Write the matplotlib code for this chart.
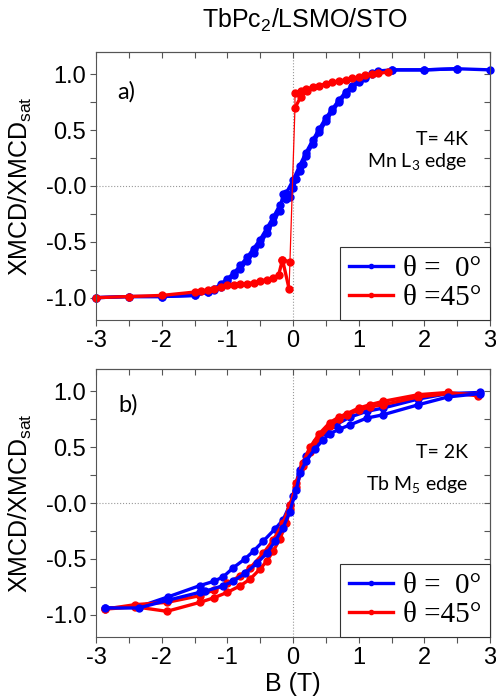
import matplotlib
matplotlib.use('Agg')
import matplotlib.pyplot as plt
from matplotlib.ticker import MultipleLocator, FixedLocator

plt.rcParams['font.family'] = ['Liberation Sans', 'DejaVu Sans']
plt.rcParams['mathtext.fontset'] = 'custom'
plt.rcParams['mathtext.rm'] = 'Liberation Sans'

# ---- panel a: Mn L3 edge, T = 4K ----
a_blue_up_B = [-3.0, -2.5, -2.0, -1.5, -1.3, -1.2, -1.1, -1.0, -0.9, -0.8, -0.7, -0.6, -0.5, -0.4,
               -0.3, -0.2, -0.15, -0.1, -0.05, 0.0, 0.05, 0.1, 0.15, 0.2, 0.3, 0.4, 0.5, 0.6, 0.7,
               0.8, 0.9, 1.0, 1.1, 1.2, 1.3, 1.5, 2.0, 2.5, 3.0]
a_blue_up_M = [-1.0, -0.99, -0.99, -0.98, -0.95, -0.93, -0.9, -0.85, -0.8, -0.74, -0.67, -0.6, -0.52,
               -0.42, -0.32, -0.22, -0.07, -0.12, -0.1, -0.02, 0.06, 0.13, 0.2, 0.27, 0.38, 0.48,
               0.58, 0.67, 0.75, 0.82, 0.88, 0.93, 0.97, 1.0, 1.02, 1.04, 1.04, 1.05, 1.04]
a_blue_dn_B = [2.5, 2.0, 1.5, 1.3, 1.2, 1.1, 1.0, 0.9, 0.8, 0.7, 0.6, 0.5, 0.4, 0.3, 0.2, 0.1, 0.0,
               -0.1, -0.2, -0.3, -0.4, -0.5, -0.6, -0.7, -0.8, -0.9, -1.0, -1.1, -1.2, -1.3, -1.5,
               -2.0, -2.5, -3.0]
a_blue_dn_M = [1.05, 1.04, 1.04, 1.03, 1.01, 0.98, 0.94, 0.9, 0.84, 0.77, 0.69, 0.61, 0.51, 0.41,
               0.3, 0.18, 0.05, -0.06, -0.17, -0.28, -0.38, -0.48, -0.56, -0.64, -0.71, -0.78,
               -0.83, -0.88, -0.92, -0.95, -0.98, -0.99, -0.99, -1.0]

a_red_low_B = [-3.0, -2.5, -2.0, -1.5, -1.4, -1.3, -1.2, -1.1, -1.0, -0.9, -0.8, -0.7, -0.6, -0.5,
               -0.4, -0.3, -0.22, -0.16, -0.06]
a_red_low_M = [-1.0, -0.99, -0.98, -0.95, -0.94, -0.93, -0.92, -0.9, -0.89, -0.885, -0.88, -0.875,
               -0.865, -0.85, -0.84, -0.82, -0.8, -0.66, -0.92]
a_red_spike_B = [-0.16, -0.05]
a_red_spike_M = [-0.66, -0.68]
a_red_jump_B = [-0.06, 0.03, 0.03]
a_red_jump_M = [-0.92, 0.70, 0.83]
a_red_up_B = [1.45, 1.3, 1.2, 1.1, 1.0, 0.9, 0.8, 0.7, 0.6, 0.5, 0.4, 0.3, 0.2, 0.12, 0.03]
a_red_up_M = [1.02, 1.01, 1.0, 0.99, 0.975, 0.965, 0.95, 0.94, 0.93, 0.915, 0.9, 0.885, 0.865, 0.85, 0.83]
a_red_up2_B = [0.03, 0.12, 0.22]
a_red_up2_M = [0.70, 0.80, 0.855]

# ---- panel b: Tb M5 edge, T = 2K ----
b_blue_dn_B = [2.85, 2.36, 1.9, 1.37, 1.12, 0.87, 0.65, 0.5, 0.35, 0.2, 0.1, 0.0, -0.05, -0.15,
               -0.27, -0.45, -0.6, -0.73, -0.91, -1.06, -1.2, -1.42, -1.9, -2.35, -2.86]
b_blue_dn_M = [0.99, 0.98, 0.93, 0.85, 0.82, 0.77, 0.7, 0.64, 0.55, 0.42, 0.3, 0.06, -0.02, -0.15,
               -0.23, -0.34, -0.43, -0.5, -0.58, -0.66, -0.7, -0.74, -0.84, -0.93, -0.94]
b_blue_up_B = [-2.86, -2.35, -1.9, -1.42, -1.34, -1.06, -0.91, -0.73, -0.55, -0.4, -0.27, -0.15,
               -0.05, 0.05, 0.11, 0.2, 0.33, 0.45, 0.56, 0.7, 0.87, 1.12, 1.37, 1.91, 2.36, 2.85]
b_blue_up_M = [-0.94, -0.94, -0.87, -0.8, -0.79, -0.74, -0.7, -0.63, -0.54, -0.45, -0.34, -0.22,
               -0.08, 0.12, 0.27, 0.38, 0.48, 0.56, 0.62, 0.66, 0.7, 0.76, 0.79, 0.88, 0.95, 0.98]
b_red_up_B = [-2.86, -2.4, -1.92, -1.42, -1.21, -1.0, -0.8, -0.65, -0.5, -0.4, -0.3, -0.2, -0.1,
              -0.05, 0.05, 0.15, 0.26, 0.4, 0.56, 0.7, 0.82, 1.0, 1.17, 1.37, 1.91, 2.36, 2.82]
b_red_up_M = [-0.95, -0.93, -0.97, -0.89, -0.85, -0.8, -0.74, -0.68, -0.59, -0.52, -0.43, -0.32,
              -0.18, -0.05, 0.18, 0.36, 0.5, 0.62, 0.72, 0.77, 0.8, 0.85, 0.88, 0.91, 0.97, 0.99, 0.96]
b_red_dn_B = [2.82, 2.36, 1.91, 1.37, 1.17, 1.0, 0.82, 0.7, 0.56, 0.4, 0.26, 0.15, 0.05, -0.05,
              -0.15, -0.3, -0.45, -0.65, -0.8, -1.0, -1.21, -1.42, -1.92, -2.4, -2.86]
b_red_dn_M = [0.97, 0.98, 0.95, 0.88, 0.86, 0.83, 0.79, 0.75, 0.69, 0.58, 0.46, 0.33, 0.14, -0.02,
              -0.18, -0.33, -0.45, -0.58, -0.65, -0.72, -0.78, -0.83, -0.89, -0.91, -0.95]

ytick_vals = [-1.0, -0.5, 0.0, 0.5, 1.0]
ytick_labels = ['-1.0', '-0.5', '-0.0', '0.5', '1.0']
xtick_vals = [-3, -2, -1, 0, 1, 2, 3]
xtick_labels = ['-3', '-2', '-1', '0', '1', '2', '3']

BLUE = '#0000ff'
RED = '#ff0000'
SPINE = '#555555'


def style_axes(ax):
    ax.set_xlim(-3, 3)
    ax.set_ylim(-1.2, 1.2)
    ax.axhline(0, color='#999999', lw=0.8, ls=':', zorder=0)
    ax.axvline(0, color='#999999', lw=0.8, ls=':', zorder=0)
    ax.xaxis.set_major_locator(FixedLocator(xtick_vals))
    ax.set_xticklabels(xtick_labels)
    ax.xaxis.set_minor_locator(MultipleLocator(0.5))
    ax.yaxis.set_major_locator(FixedLocator(ytick_vals))
    ax.set_yticklabels(ytick_labels)
    ax.yaxis.set_minor_locator(MultipleLocator(0.25))
    ax.tick_params(which='both', direction='out', length=4, width=0.8, color=SPINE,
                   labelsize=17, pad=3)
    for s in ax.spines.values():
        s.set_color(SPINE)
        s.set_linewidth(0.8)
    # top / right ticks point inward
    top = ax.secondary_xaxis('top')
    top.xaxis.set_major_locator(MultipleLocator(0.5))
    top.tick_params(direction='in', length=4, width=0.8, color=SPINE, labeltop=False)
    top.spines['top'].set_color(SPINE)
    right = ax.secondary_yaxis('right')
    right.yaxis.set_major_locator(MultipleLocator(0.25))
    right.tick_params(direction='in', length=4, width=0.8, color=SPINE, labelright=False)
    right.spines['right'].set_color(SPINE)
    ax.set_ylabel(r'XMCD/XMCD$_\mathregular{sat}$', fontsize=18)
    ax.yaxis.set_label_coords(-0.158, 0.5)


def curve(ax, x, y, c, lw=2.4, ms=5, label=None):
    ax.plot(x, y, '-o', color=c, lw=lw, ms=ms, mec=c, clip_on=False, label=label)


def add_legend(ax):
    leg = ax.legend(loc='lower right', bbox_to_anchor=(1.0, 0.0), borderaxespad=0,
                    prop={'family': 'Liberation Serif', 'size': 21}, fancybox=False,
                    edgecolor='#333333', framealpha=1, numpoints=1, markerscale=0.6,
                    handlelength=1.5, handletextpad=0.35, labelspacing=0.1,
                    borderpad=0.3)
    leg.get_frame().set_linewidth(0.8)


fig = plt.figure(figsize=(4.96, 7.0), dpi=100)
ax_a = fig.add_axes([96 / 496, 1 - 320 / 700, 394 / 496, 268 / 700])
ax_b = fig.add_axes([96 / 496, 1 - 637 / 700, 394 / 496, 268 / 700])

# panel a
style_axes(ax_a)
curve(ax_a, a_blue_up_B, a_blue_up_M, BLUE, label='\u03b8 =  0\u00b0')
curve(ax_a, a_blue_dn_B, a_blue_dn_M, BLUE)
ax_a.plot(a_red_jump_B, a_red_jump_M, '-', color=RED, lw=0.9)
curve(ax_a, a_red_low_B, a_red_low_M, RED, label='\u03b8 =45\u00b0')
curve(ax_a, a_red_spike_B, a_red_spike_M, RED)
curve(ax_a, a_red_up_B, a_red_up_M, RED)
curve(ax_a, a_red_up2_B, a_red_up2_M, RED)
add_legend(ax_a)
ax_a.text(0.078, 0.852, 'a)', transform=ax_a.transAxes, fontsize=17, family='Lato',
          ha='center', va='center')
ax_a.text(0.944, 0.672, 'T= 4K', transform=ax_a.transAxes, fontsize=14, family='Lato',
          ha='right', va='center')
ax_a.text(0.944, 0.59, r'Mn L$_\mathregular{3}$ edge', transform=ax_a.transAxes, fontsize=14,
          family='Lato', ha='right', va='center')

# panel b
style_axes(ax_b)
curve(ax_b, b_blue_dn_B, b_blue_dn_M, BLUE, label='\u03b8 =  0\u00b0')
curve(ax_b, b_red_up_B, b_red_up_M, RED, label='\u03b8 =45\u00b0')
curve(ax_b, b_red_dn_B, b_red_dn_M, RED)
curve(ax_b, b_blue_up_B, b_blue_up_M, BLUE)
add_legend(ax_b)
ax_b.text(0.081, 0.866, 'b)', transform=ax_b.transAxes, fontsize=17, family='Lato',
          ha='center', va='center')
ax_b.text(0.944, 0.69, 'T= 2K', transform=ax_b.transAxes, fontsize=14, family='Lato',
          ha='right', va='center')
ax_b.text(0.944, 0.567, r'Tb M$_\mathregular{5}$ edge', transform=ax_b.transAxes, fontsize=14,
          family='Lato', ha='right', va='center')
ax_b.set_xlabel('B (T)', fontsize=18, labelpad=2)

fig.text(0.615, 0.971, r'TbPc$_\mathregular{2}$/LSMO/STO', fontsize=18, ha='center', va='center')

fig.savefig('out.png', dpi=100)
